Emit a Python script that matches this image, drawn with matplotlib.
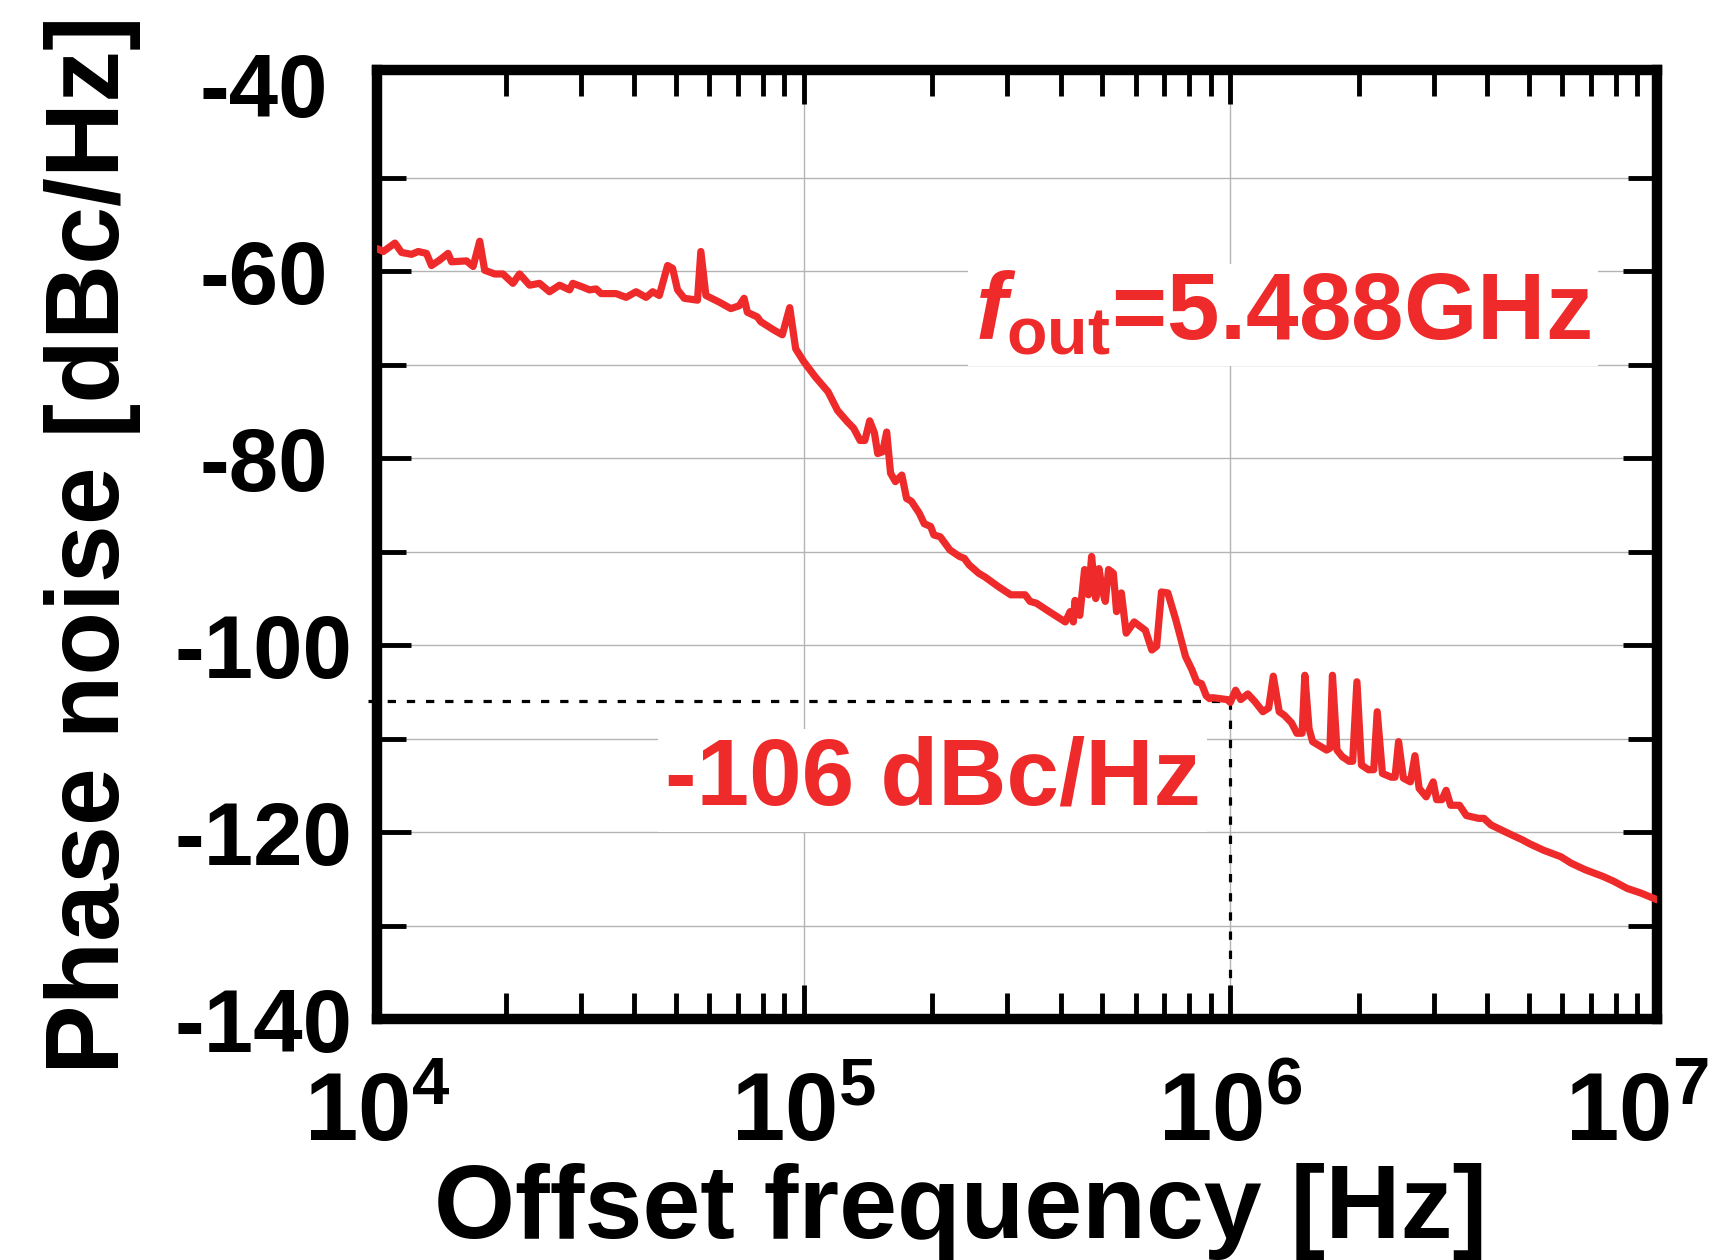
import matplotlib
matplotlib.use('Agg')
import matplotlib.pyplot as plt
from matplotlib.ticker import FixedLocator, FixedFormatter, LogLocator, NullFormatter
from matplotlib.transforms import ScaledTranslation

# phase noise trace
freq_hz = [
    1.000e4, 1.032e4, 1.099e4, 1.139e4, 1.202e4, 1.246e4, 1.303e4, 1.339e4,
    1.400e4, 1.464e4, 1.492e4, 1.617e4, 1.676e4, 1.737e4, 1.784e4, 1.883e4,
    1.969e4, 2.078e4, 2.154e4, 2.274e4, 2.399e4, 2.532e4, 2.673e4, 2.821e4,
    2.871e4, 3.030e4, 3.141e4, 3.256e4, 3.345e4, 3.627e4, 3.828e4, 4.040e4,
    4.264e4, 4.419e4, 4.580e4, 4.789e4, 4.920e4, 5.054e4, 5.240e4, 5.627e4,
    5.731e4, 5.889e4, 6.326e4, 6.737e4, 7.047e4, 7.238e4, 7.369e4, 7.777e4,
    7.918e4, 8.505e4, 8.896e4, 9.260e4, 9.563e4,
    1.000e5, 1.063e5, 1.139e5, 1.199e5, 1.264e5, 1.308e5, 1.354e5, 1.389e5,
    1.426e5, 1.463e5, 1.489e5, 1.529e5, 1.563e5, 1.596e5, 1.638e5, 1.696e5,
    1.740e5, 1.786e5, 1.865e5, 1.914e5, 1.982e5, 2.016e5, 2.087e5, 2.198e5,
    2.315e5, 2.376e5, 2.439e5, 2.569e5, 2.658e5, 2.850e5, 3.053e5, 3.301e5,
    3.388e5, 3.508e5, 3.758e5, 4.100e5, 4.208e5, 4.281e5, 4.319e5, 4.433e5,
    4.549e5, 4.645e5, 4.725e5, 4.832e5, 4.918e5, 5.003e5, 5.088e5, 5.178e5,
    5.314e5, 5.406e5, 5.548e5, 5.694e5, 5.945e5, 6.317e5, 6.540e5, 6.712e5,
    6.889e5, 7.130e5, 7.447e5, 7.845e5, 8.119e5, 8.333e5, 8.551e5, 8.775e5,
    8.930e5, 9.085e5, 9.820e5, 9.990e5,
    1.028e6, 1.057e6, 1.098e6, 1.140e6, 1.191e6, 1.229e6, 1.260e6, 1.301e6,
    1.339e6, 1.391e6, 1.431e6, 1.472e6, 1.494e6, 1.528e6, 1.558e6, 1.680e6,
    1.711e6, 1.734e6, 1.777e6, 1.828e6, 1.898e6, 1.934e6, 1.979e6, 2.028e6,
    2.106e6, 2.167e6, 2.208e6, 2.271e6, 2.382e6, 2.431e6, 2.478e6, 2.543e6,
    2.641e6, 2.707e6, 2.769e6, 2.876e6, 2.987e6, 3.043e6, 3.131e6, 3.203e6,
    3.282e6, 3.442e6, 3.573e6, 3.818e6, 3.928e6, 4.080e6, 4.481e6, 4.836e6,
    5.019e6, 5.415e6, 5.950e6, 6.295e6, 6.792e6, 7.461e6, 7.896e6, 8.520e6,
    9.187e6, 1.000e7,
]
noise_dbc = [
    -57.6, -57.9, -57.0, -58.0, -58.2, -57.9, -58.1, -59.4,
    -58.8, -58.1, -59.0, -58.9, -59.5, -56.8, -59.9, -60.3,
    -60.3, -61.3, -60.3, -61.5, -61.3, -62.2, -61.5, -62.0,
    -61.3, -61.7, -62.0, -61.9, -62.4, -62.4, -62.8, -62.2,
    -62.8, -62.2, -62.6, -59.4, -59.7, -62.0, -62.9, -63.1,
    -57.9, -62.6, -63.3, -64.0, -63.7, -62.9, -64.4, -64.9,
    -65.4, -66.3, -66.8, -63.9, -68.3,
    -69.7, -71.3, -72.9, -74.9, -76.1, -76.8, -78.1, -78.1,
    -76.0, -77.3, -79.5, -79.3, -77.2, -81.6, -82.5, -81.8,
    -84.3, -84.6, -85.9, -87.0, -87.3, -88.2, -88.4, -89.8,
    -90.5, -90.7, -91.4, -92.3, -92.7, -93.7, -94.6, -94.6,
    -95.3, -95.5, -96.4, -97.5, -96.4, -97.5, -95.2, -96.8,
    -91.9, -94.6, -90.5, -95.0, -91.8, -94.1, -95.3, -91.9,
    -92.3, -96.4, -94.4, -98.7, -97.5, -98.4, -100.5, -100.1,
    -94.3, -94.4, -97.3, -101.2, -102.6, -103.9, -104.1, -105.4,
    -105.7, -105.6, -105.8, -106.1,
    -104.8, -105.8, -105.2, -106.0, -107.1, -106.7, -103.3, -107.1,
    -107.5, -108.3, -109.4, -109.4, -103.2, -108.9, -110.3, -111.2,
    -111.0, -103.2, -111.2, -111.9, -112.4, -112.4, -103.9, -112.8,
    -113.3, -113.3, -107.1, -113.7, -114.1, -114.1, -110.3, -114.2,
    -114.6, -111.8, -115.3, -116.2, -114.6, -116.5, -116.5, -115.5,
    -117.1, -117.1, -118.2, -118.5, -118.5, -119.2, -120.1, -120.8,
    -121.2, -121.9, -122.6, -123.3, -124.0, -124.7, -125.2, -126.0,
    -126.5, -127.2,
]

x_ticks = [1e4, 1e5, 1e6, 1e7]
x_tick_labels = [r'$10^{4}$', r'$10^{5}$', r'$10^{6}$', r'$10^{7}$']
y_ticks = [-140, -120, -100, -80, -60, -40]
y_minor_ticks = [-130, -110, -90, -70, -50]
marker_freq = 1e6
marker_level = -106
fout_label = r'$\mathit{f}_{\mathrm{out}}$=5.488GHz'
marker_label = '-106 dBc/Hz'

RED = '#ee2a2a'

plt.rcParams['font.family'] = ['Liberation Sans', 'DejaVu Sans']
plt.rcParams['font.weight'] = 'bold'
plt.rcParams['axes.unicode_minus'] = False
plt.rcParams['mathtext.fontset'] = 'custom'
plt.rcParams['mathtext.rm'] = 'Liberation Sans:bold'
plt.rcParams['mathtext.bf'] = 'Liberation Sans:bold'
plt.rcParams['mathtext.it'] = 'Liberation Sans:bold:italic'

fig = plt.figure(figsize=(17.18, 12.6), dpi=100)
ax = fig.add_axes([0.2197, 0.1909, 0.7448, 0.7535])

ax.plot(freq_hz, noise_dbc, color=RED, lw=5.2,
        solid_joinstyle='round', solid_capstyle='round', zorder=4)

ax.set_xscale('log')
ax.set_xlim(x_ticks[0], x_ticks[-1])
ax.set_ylim(y_ticks[0], -38.5)

ax.xaxis.set_major_locator(FixedLocator(x_ticks))
ax.xaxis.set_major_formatter(FixedFormatter(x_tick_labels))
ax.xaxis.set_minor_locator(LogLocator(base=10, subs=range(2, 10), numticks=20))
ax.xaxis.set_minor_formatter(NullFormatter())
ax.set_yticks(y_ticks)
ax.set_yticklabels([str(v) for v in y_ticks])
ax.set_yticks(y_minor_ticks, minor=True)

for s in ax.spines.values():
    s.set_linewidth(7.5)

ax.tick_params(which='both', direction='in', top=True, right=True,
               width=3.5, color='black')
ax.tick_params(axis='x', which='major', length=24.5, pad=37, labelsize=69)
ax.tick_params(axis='x', which='minor', length=19)
ax.tick_params(axis='y', which='major', length=24.5, pad=82, labelsize=64)
ax.tick_params(axis='y', which='minor', length=21)
for lab in ax.get_yticklabels():
    lab.set_horizontalalignment('center')

# last decade label sits a bit left of its tick so it stays inside the figure
last_lab = ax.xaxis.get_major_ticks()[-1].label1
last_lab.set_transform(last_lab.get_transform()
                       + ScaledTranslation(-0.2, 0, fig.dpi_scale_trans))

ax.set_axisbelow(True)
ax.yaxis.grid(True, which='both', color='#b4b4b4', lw=1.0)
ax.xaxis.grid(True, which='major', color='#b4b4b4', lw=1.0)

# no tick mark or grid line at -40, it sits just under the top frame
top_tick = ax.yaxis.get_major_ticks()[-1]
top_tick.tick1line.set_visible(False)
top_tick.tick2line.set_visible(False)
top_tick.gridline.set_visible(False)

# -106 dBc/Hz @ 1 MHz marker lines
dash = (0, (2.6, 3.4))
ax.plot([9.5e3, marker_freq], [marker_level, marker_level], color='black',
        lw=2.3, ls=dash, clip_on=False, zorder=3)
ax.plot([marker_freq, marker_freq], [marker_level, y_ticks[0]], color='black',
        lw=2.3, ls=dash, zorder=3)

box = dict(facecolor='white', edgecolor='none', pad=5)
ax.text(0.467, 0.716, fout_label, transform=ax.transAxes, fontsize=68,
        color=RED, ha='left', va='baseline', bbox=box, zorder=3.5)
ax.text(0.2247, 0.2259, marker_label, transform=ax.transAxes, fontsize=68,
        color=RED, ha='left', va='baseline', bbox=box, zorder=3.5)

fig.text(0.5594, 0.0175, 'Offset frequency [Hz]', ha='center', va='baseline',
         fontsize=75)
fig.text(0.054, 0.5675, 'Phase noise [dBc/Hz]', rotation=90, ha='center',
         va='center', fontsize=75)

fig.savefig('out.png', dpi=100)
